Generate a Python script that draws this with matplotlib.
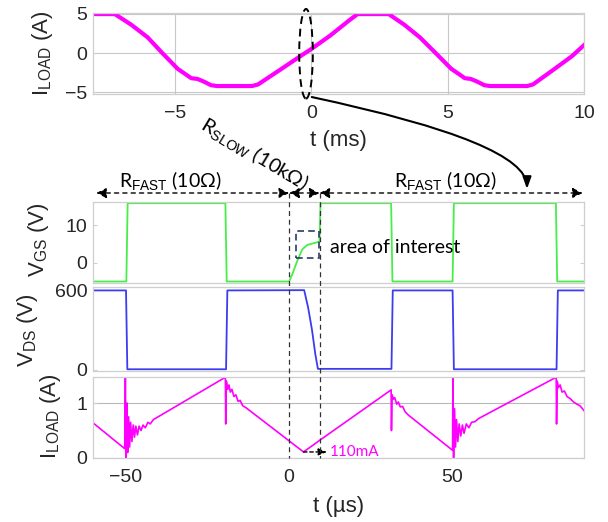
import matplotlib
matplotlib.use("Agg")
import matplotlib.pyplot as plt
from matplotlib.patches import Ellipse, Rectangle
from matplotlib.lines import Line2D
from matplotlib.transforms import blended_transform_factory

plt.rcParams['font.family'] = ['Liberation Sans', 'DejaVu Sans']
plt.rcParams['mathtext.fontset'] = 'custom'
plt.rcParams['mathtext.rm'] = 'Liberation Sans'
plt.rcParams['mathtext.it'] = 'Liberation Sans:italic'
plt.rcParams['mathtext.bf'] = 'Liberation Sans:bold'

# ---------------- data ----------------
# top panel: load current over ms
t_ms = [-8.0, -7.2, -6.6, -6.0, -5.46, -4.9, -4.4, -4.17, -3.96, -3.67, -3.45,
        -2.17, -1.95, -1.17, -0.31, 0.0, 0.69, 1.41, 1.7, 2.84, 3.41, 3.98,
        4.56, 5.13, 5.63, 5.85, 6.06, 6.35, 6.56, 7.92, 8.13, 8.85, 9.56, 10.0]
i_ms = [4.95, 4.95, 3.6, 2.0, 0.0, -2.0, -3.2, -3.3, -3.6, -4.1, -4.2,
        -4.2, -4.0, -2.2, -0.2, 0.5, 2.2, 4.2, 4.95, 4.95, 3.6, 2.0,
        0.0, -2.0, -3.2, -3.3, -3.6, -4.1, -4.2, -4.2, -4.0, -2.2, -0.4, 1.0]

# gate-source voltage (us, V)
t_vgs = [-60, -49.8, -49.4, -19.5, -19.1, 0.0, 1.0, 2.5, 4.0, 5.5, 9.3, 9.6,
         31.2, 31.6, 50.0, 50.4, 81.6, 82.0, 90.5]
v_gs = [-5, -5, 15.8, 15.8, -5, -5, -3, 0.5, 3.5, 4.7, 5.6, 15.8,
        15.8, -5, -5, 15.8, 15.8, -5, -5]

# drain-source voltage (us, V)
t_vds = [-60, -49.9, -49.5, -19.3, -18.9, 4.6, 5.8, 7.0, 8.0, 8.8, 31.3, 31.7,
         50.0, 50.4, 81.8, 82.2, 90.5]
v_ds = [598, 598, 5, 5, 598, 600, 470, 300, 120, 8, 8, 598,
        598, 5, 5, 598, 598]

# load current zoom (us, A)
t_il = [-60, -50.3, -50.1, -49.9, -49.6, -49.4, -49.1, -48.8, -48.5, -48.1, -47.7,
        -47.3, -46.9, -46.4, -45.9, -45.3, -44.7, -44.0, -43.2, -42.5, -41.5,
        -19.5, -19.4, -19.2, -18.8, -18.4, -18.0, -17.5, -16.9, -16.3, -15.6,
        -15.0, -14.2, -13.3, 4.4, 9.3, 31.2, 31.3, 31.5, 31.9, 32.3, 32.9, 33.4,
        34.0, 34.7, 35.5, 36.5, 50.0, 50.1, 50.3, 50.6, 50.9, 51.2, 51.6, 52.0,
        52.5, 53.0, 53.5, 54.2, 55.0, 55.8, 56.8, 58.0, 81.7, 81.8, 82.0, 82.4,
        82.9, 83.5, 84.2, 85.0, 86.0, 87.0, 88.0, 89.0, 90.5]
i_il = [0.64, 0.17, 1.46, 0.0, 1.0, 0.1, 0.75, 0.2, 0.65, 0.3, 0.6,
        0.38, 0.58, 0.42, 0.58, 0.5, 0.6, 0.55, 0.65, 0.62, 0.7,
        1.47, 0.62, 1.4, 1.25, 1.33, 1.2, 1.25, 1.12, 1.15, 1.03,
        1.05, 0.95, 0.92, 0.11, 0.32, 1.24, 0.5, 1.15, 1.07, 1.1, 0.98, 1.02,
        0.93, 0.94, 0.84, 0.78, 0.14, 1.47, 0.0, 0.9, 0.2, 0.7, 0.3, 0.62,
        0.4, 0.6, 0.45, 0.62, 0.55, 0.65, 0.66, 0.72, 1.47, 0.62, 1.4, 1.28,
        1.33, 1.2, 1.22, 1.12, 1.08, 1.02, 0.98, 0.95, 0.84]

t_slow_start = 0.0    # us
t_slow_end = 9.3      # us
i_min = 0.11          # A
t_min = 4.4           # us

OHM = '\u03a9'
lbl_fast = 'R$_{\\mathrm{FAST}}$ (10' + OHM + ')'
lbl_slow = 'R$_{\\mathrm{SLOW}}$ (10k' + OHM + ')'

# ---------------- figure ----------------
W, H = 608, 522
fig = plt.figure(figsize=(W / 100, H / 100), dpi=100)


def box(l, t, r, b):
    return [l / W, 1 - b / H, (r - l) / W, (b - t) / H]


ax_top = fig.add_axes(box(93, 12.5, 584, 93.5))
ax_vgs = fig.add_axes(box(93, 201.7, 584, 283))
ax_vds = fig.add_axes(box(93, 286.7, 584, 371))
ax_il = fig.add_axes(box(93, 376.7, 584, 458))

spine_c = '#cfcfcf'
text_c = '#262626'
for ax in (ax_top, ax_vgs, ax_vds, ax_il):
    for s in ax.spines.values():
        s.set_color(spine_c)
        s.set_linewidth(0.9)
    ax.tick_params(axis='both', labelsize=14, colors=spine_c, labelcolor=text_c,
                   direction='in', length=3)
    ax.tick_params(axis='x', pad=8, length=0)
    ax.tick_params(axis='y', pad=4, right=True)

# top panel
ax_top.plot(t_ms, i_ms, color='#ff00ff', lw=3.0, solid_joinstyle='round')
ax_top.set_xlim(-8, 10)
ax_top.set_ylim(-5.15, 5.15)
ax_top.set_xticks([-5, 0, 5, 10])
ax_top.set_yticks([-5, 0, 5])
ax_top.grid(True, color='#c8c8c8', lw=0.8)
ax_top.set_axisbelow(True)
ax_top.set_xlabel('t (ms)', fontsize=16, color=text_c, labelpad=6)

# VGS
ax_vgs.plot(t_vgs, v_gs, color='#48ee48', lw=1.3)
ax_vgs.set_xlim(-60, 90.2)
ax_vgs.set_ylim(-5.4, 16.2)
ax_vgs.set_yticks([0, 10])
ax_vgs.set_xticks([-50, 0, 50])
ax_vgs.tick_params(axis='x', labelbottom=False)

# VDS
ax_vds.plot(t_vds, v_ds, color='#3c3cf0', lw=1.3)
ax_vds.set_xlim(-60, 90.2)
ax_vds.set_ylim(-8, 626)
ax_vds.set_yticks([0, 600])
ax_vds.set_xticks([-50, 0, 50])
ax_vds.tick_params(axis='x', labelbottom=False)

# ILOAD zoom
ax_il.plot(t_il, i_il, color='#ff00ff', lw=1.2)
ax_il.set_xlim(-60, 90.2)
ax_il.set_ylim(0, 1.48)
ax_il.set_yticks([0, 1])
ax_il.set_xticks([-50, 0, 50])
ax_il.yaxis.grid(True, color='#b8b8b8', lw=0.8)
ax_il.set_axisbelow(True)
ax_il.set_xlabel('t (\u00b5s)', fontsize=16, color=text_c, labelpad=7)


# y labels (placed as rotated text)
def ylab(txt, x_left, y_center):
    fig.text(x_left / W, 1 - y_center / H, txt, rotation=90, ha='left',
             va='center', fontsize=16, color=text_c)


ylab('I$_{\\mathrm{LOAD}}$ (A)', 30, 53)
ylab('V$_{\\mathrm{GS}}$ (V)', 26, 240)
ylab('V$_{\\mathrm{DS}}$ (V)', 15, 330)
ylab('I$_{\\mathrm{LOAD}}$ (A)', 38, 416)

# ellipse + curved arrow
ell = Ellipse((-0.19, -0.1), width=0.5, height=11.4, fill=False, ls=(0, (4, 2.5)),
              lw=1.4, ec='black', clip_on=False, zorder=5)
ax_top.add_patch(ell)
ax_top.annotate('', xy=(527 / W, 1 - 189 / H), xycoords='figure fraction',
                xytext=(0.02, -5.6), textcoords='data',
                arrowprops=dict(arrowstyle='-|>,head_length=0.7,head_width=0.25',
                                connectionstyle='angle3,angleA=-12,angleB=90',
                                lw=1.5, color='black', shrinkA=0, shrinkB=0),
                annotation_clip=False)

# vertical dashed lines spanning the lower panels
blend = blended_transform_factory(ax_il.transData, fig.transFigure)
y_row = 1 - 193 / H
y_bot = 1 - 458 / H
for tx in (t_slow_start, t_slow_end):
    fig.add_artist(Line2D([tx, tx], [y_row, y_bot], transform=blend, color='#333333',
                          lw=0.9, ls=(0, (4, 3))))

# double-headed dashed arrows
arrow_kw = dict(arrowstyle='<|-|>,head_length=0.6,head_width=0.3', lw=1.0,
                color='black', ls=(0, (3, 3)), shrinkA=0, shrinkB=0)
for a, b in ((-59.0, t_slow_start), (t_slow_start, t_slow_end), (t_slow_end, 89.8)):
    ax_il.annotate('', xy=(b, y_row), xycoords=blend, xytext=(a, y_row), textcoords=blend,
                   arrowprops=arrow_kw, annotation_clip=False)

ann_font = ['Lato', 'DejaVu Sans']
fig.text(170 / W, 1 - 180 / H, lbl_fast, ha='center', va='center',
         fontsize=14, family=ann_font, color='black')
fig.text(445 / W, 1 - 180 / H, lbl_fast, ha='center', va='center',
         fontsize=14, family=ann_font, color='black')
fig.text(254 / W, 1 - 154 / H, lbl_slow, ha='center', va='center',
         rotation=-31, rotation_mode='anchor', fontsize=14.5, family=ann_font, color='black')

# area of interest box
ax_vgs.add_patch(Rectangle((2.1, 1.25), 7.1, 7.15, fill=False, ec='#2b3a67', lw=1.2,
                           ls=(0, (4, 2.5)), zorder=4))
ax_vgs.text(12.5, 3.9, 'area of interest', fontsize=14, family=ann_font, va='center',
            ha='left', color='black')

# 110 mA annotation
ax_il.annotate('', xy=(11.6, i_min), xytext=(t_min, i_min),
               arrowprops=dict(arrowstyle='-|>,head_length=0.5,head_width=0.2',
                               ls=(0, (2.5, 2)), lw=1.0, color='black', shrinkA=0, shrinkB=0))
ax_il.text(12.3, i_min, '110mA', fontsize=11, family=ann_font, color='#ff00ff',
           va='center', ha='left')

fig.savefig('out.png', dpi=100)
